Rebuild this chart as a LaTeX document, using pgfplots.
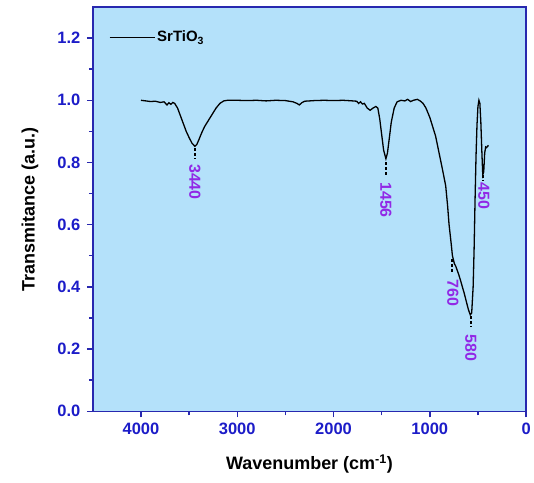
\documentclass[border=0pt]{standalone}
\usepackage{pgfplots}
\pgfplotsset{compat=1.18}
\usepackage{fontspec}
\setmainfont{Liberation Sans}
\definecolor{bgblue}{RGB}{180,225,250}
\definecolor{tickblue}{RGB}{28,28,200}
\definecolor{axblue}{RGB}{40,40,175}
\definecolor{annpurple}{RGB}{145,40,230}
\begin{document}
\begin{tikzpicture}
\begin{axis}[
  scale only axis,
  width=434pt, height=405pt,
  xmin=0, xmax=4500, ymin=0, ymax=1.3,
  x dir=reverse,
  axis background/.style={fill=bgblue},
  axis line style={axblue, line width=1.4pt},
  xtick={0,1000,2000,3000,4000},
  minor xtick={500,1500,2500,3500},
  ytick={0,0.2,0.4,0.6,0.8,1.0,1.2},
  minor ytick={0.1,0.3,0.5,0.7,0.9,1.1},
  tick align=outside,
  tick pos=left,
  major tick length=6pt,
  minor tick length=4pt,
  tick style={axblue, line width=1.4pt},
  ticklabel style={font=\bfseries\fontsize{16.5}{16.5}\selectfont, text=tickblue},
  /pgf/number format/assume math mode=true,
  scaled x ticks=false,
  xticklabel style={/pgf/number format/1000 sep={}, yshift=-2pt},
  yticklabel style={/pgf/number format/fixed, /pgf/number format/fixed zerofill, /pgf/number format/precision=1, xshift=-3pt},
  xlabel={Wavenumber (cm\textsuperscript{-1})},
  ylabel={Transmitance (a.u.)},
  label style={font=\bfseries\fontsize{18}{18}\selectfont},
  xlabel style={at={(axis description cs:0.5,0)}, anchor=center, yshift=-53pt},
  ylabel style={at={(axis description cs:-0.145,0.5)}, anchor=center},
  legend style={draw=none, fill=none, at={(axis description cs:0.03,0.925)}, anchor=west,
    font=\bfseries\fontsize{15}{15}\selectfont},
  legend image code/.code={\draw[#1] (0pt,0pt) -- (45pt,0pt);},
  clip=false,
]
\addplot[black, line width=1.3pt] coordinates {
(4000,1.000) (3950,0.998) (3900,0.996) (3850,0.997) (3800,0.993) (3760,0.995)
(3730,0.985) (3710,0.992) (3690,0.987) (3670,0.993) (3650,0.990) (3620,0.975)
(3590,0.950) (3560,0.925) (3530,0.900) (3500,0.880) (3470,0.862) (3440,0.852)
(3420,0.858) (3400,0.872) (3370,0.895) (3340,0.915) (3300,0.935) (3260,0.955)
(3220,0.975) (3180,0.990) (3140,0.998) (3100,1.000) (3000,1.000) (2900,0.999)
(2800,1.000) (2700,0.998) (2600,1.000) (2500,0.999) (2420,0.995) (2380,0.990)
(2355,0.985) (2330,0.992) (2300,0.997) (2200,0.999) (2100,1.000) (2000,0.999)
(1900,1.000) (1800,0.998) (1760,0.997) (1740,0.990) (1720,0.995) (1700,0.988)
(1680,0.990) (1650,0.975) (1620,0.968) (1590,0.975) (1560,0.980) (1540,0.975)
(1520,0.940) (1500,0.890) (1480,0.840) (1456,0.812) (1440,0.830) (1420,0.880)
(1400,0.930) (1370,0.975) (1340,0.995) (1300,1.000) (1260,0.998) (1230,1.003)
(1200,0.996) (1170,1.000) (1130,1.003) (1100,0.998) (1070,0.990) (1040,0.975)
(1000,0.945) (970,0.915) (940,0.885) (910,0.840) (870,0.780) (835,0.725)
(815,0.660) (800,0.600) (780,0.545) (765,0.500) (745,0.475) (730,0.466)
(700,0.440) (680,0.420) (660,0.398) (643,0.380) (620,0.352) (600,0.328)
(580,0.310) (565,0.316) (550,0.400) (540,0.520) (530,0.680) (520,0.820)
(510,0.920) (500,0.980) (490,1.000) (480,0.990) (470,0.930) (460,0.840)
(450,0.760) (440,0.770) (430,0.830) (420,0.850) (410,0.848) (400,0.852) (390,0.855)
};
\addlegendentry{SrTiO\textsubscript{3}}
\begin{scope}[black, line width=1.5pt, dash pattern=on 3pt off 2pt]
\draw (axis cs:3440,0.845) -- (axis cs:3440,0.810);
\draw (axis cs:1456,0.800) -- (axis cs:1456,0.760);
\draw (axis cs:770,0.490) -- (axis cs:770,0.445);
\draw (axis cs:573,0.305) -- (axis cs:573,0.270);
\draw (axis cs:447,0.760) -- (axis cs:447,0.740);
\end{scope}
\begin{scope}[every node/.style={text=annpurple, font=\bfseries\fontsize{16}{16}\selectfont, rotate=-90, anchor=west, inner sep=0pt}]
\node at (axis cs:3440,0.795) {3440};
\node at (axis cs:1456,0.737) {1456};
\node at (axis cs:760,0.424) {760};
\node at (axis cs:573,0.247) {580};
\node at (axis cs:438,0.735) {450};
\end{scope}
\end{axis}
\path (current axis.south west) ++(-93pt,-71pt);
\path (current axis.north east) ++(7pt,7pt);
\end{tikzpicture}
\end{document}
